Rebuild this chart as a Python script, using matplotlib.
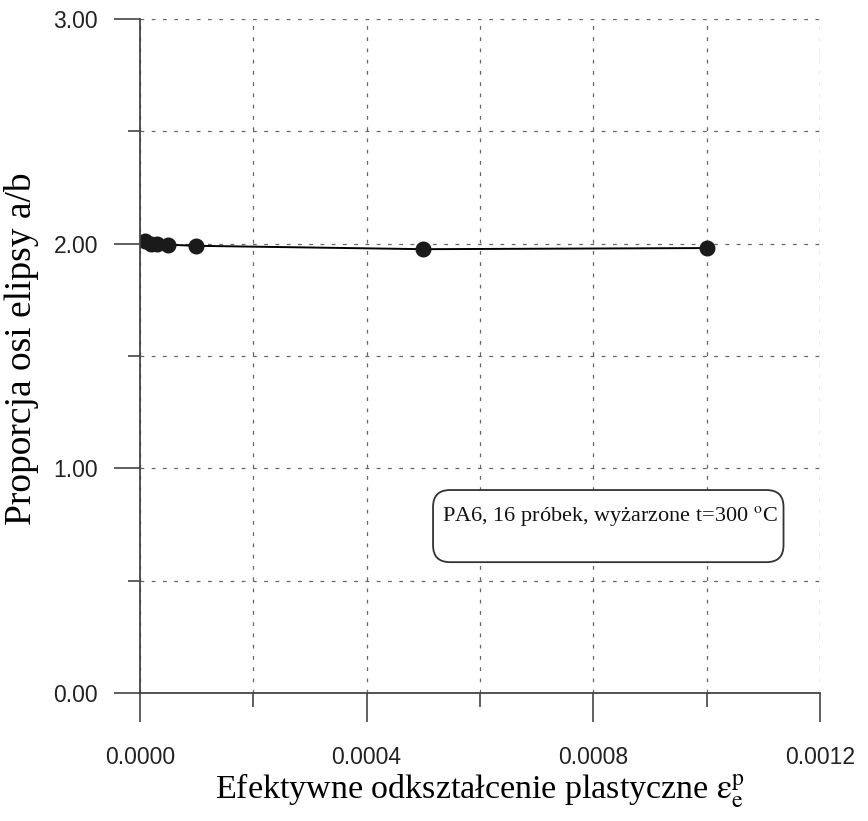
import matplotlib
matplotlib.use('Agg')
import matplotlib.pyplot as plt
from matplotlib.patches import FancyBboxPatch
from matplotlib.ticker import MultipleLocator, FormatStrFormatter

# Data
strain = [0.00001, 0.00002, 0.00003, 0.00005, 0.0001, 0.0005, 0.001]
ratio = [2.01, 2.00, 2.00, 1.995, 1.99, 1.975, 1.98]

note_text = 'PA6, 16 próbek, wyżarzone t=300 $^{\\mathrm{o}}$C'
x_label = 'Efektywne odkształcenie plastyczne $\\mathrm{\\varepsilon}^{\\mathrm{p}}_{\\mathrm{e}}$'
y_label = 'Proporcja osi elipsy a/b'

plt.rcParams['mathtext.fontset'] = 'stix'

fig = plt.figure(figsize=(8.68, 8.21), dpi=100)
ax = fig.add_axes([0.161, 0.156, 0.784, 0.821])

axis_col = '#444444'

ax.plot(strain, ratio, color='black', linewidth=1.4, marker='o',
        markersize=10.5, markerfacecolor='#1a1a1a', markeredgecolor='#1a1a1a')

ax.set_xlim(0, 0.0012)
ax.set_ylim(0, 3)

ax.xaxis.set_major_locator(MultipleLocator(0.0004))
ax.xaxis.set_minor_locator(MultipleLocator(0.0002))
ax.yaxis.set_major_locator(MultipleLocator(1.0))
ax.yaxis.set_minor_locator(MultipleLocator(0.5))
ax.xaxis.set_major_formatter(FormatStrFormatter('%.4f'))
ax.yaxis.set_major_formatter(FormatStrFormatter('%.2f'))

ax.grid(True, which='both', color='#666666', linestyle=(0, (3, 6)), linewidth=0.9)
ax.set_axisbelow(True)

for s in ['top', 'right']:
    ax.spines[s].set_visible(False)
for s in ['left', 'bottom']:
    ax.spines[s].set_color(axis_col)
    ax.spines[s].set_linewidth(1.3)

ax.tick_params(axis='x', which='major', direction='out', length=21, width=1.2,
               color=axis_col, pad=17, labelsize=16.5, labelcolor='#222222')
ax.tick_params(axis='x', which='minor', direction='out', length=10, width=1.2, color=axis_col)
ax.tick_params(axis='y', which='major', direction='out', length=19, width=1.2,
               color=axis_col, pad=11, labelsize=16.5, labelcolor='#222222')
ax.tick_params(axis='y', which='minor', direction='out', length=9, width=1.2, color=axis_col)
for lab in ax.get_xticklabels() + ax.get_yticklabels():
    lab.set_family('Liberation Sans')

ax.set_xlabel(x_label, family='Liberation Serif', fontsize=24.5, labelpad=2)
ax.set_ylabel(y_label, family='Liberation Serif', fontsize=27)
ax.yaxis.set_label_coords(-0.148, 0.51)

box = FancyBboxPatch((0.431, 0.194), 0.515, 0.107, transform=ax.transAxes,
                     boxstyle='round,pad=0,rounding_size=0.025',
                     facecolor='white', edgecolor='#333333', linewidth=1.3)
ax.add_patch(box)
ax.text(0.444, 0.262, note_text, transform=ax.transAxes, family='Liberation Serif',
        fontsize=16, va='center', ha='left', color='#111111')

fig.savefig('out.png', dpi=100)
